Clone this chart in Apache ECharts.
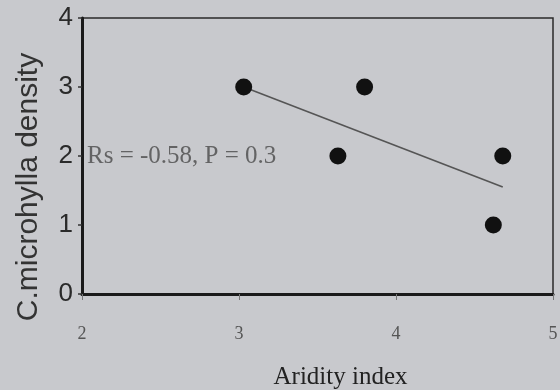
<!DOCTYPE html>
<html>
<head>
<meta charset="utf-8">
<script src="https://cdn.jsdelivr.net/npm/echarts@6/dist/echarts.min.js"></script>
<style>
  html, body { margin: 0; padding: 0; background: #c8c9cd; }
  #chart { width: 560px; height: 390px; }
</style>
</head>
<body>
<div id="chart"></div>
<script>
// data
const aridity = [3.03, 3.63, 3.80, 4.62, 4.68];
const density = [3, 2, 3, 1, 2];
const trendX = [3.03, 4.68];
const trendY = [3.0, 1.55];
const xTicks = [2, 3, 4, 5];
const yTicks = [0, 1, 2, 3, 4];
const statText = 'Rs = -0.58, P = 0.3';
const statAt = [2.0, 2];

const points = aridity.map((x, i) => [x, density[i]]);
const trend = trendX.map((x, i) => [x, trendY[i]]);

const chart = echarts.init(document.getElementById('chart'), null, { renderer: 'canvas' });
chart.setOption({
  backgroundColor: '#c8c9cd',
  animation: false,
  grid: {
    left: 82, right: 7, top: 18, bottom: 96,
    outerBoundsMode: 'none', containLabel: false,
    show: true, borderColor: '#2a2a2a', borderWidth: 1.5
  },
  xAxis: {
    type: 'value',
    min: xTicks[0], max: xTicks[xTicks.length - 1], interval: 1,
    name: 'Aridity index',
    nameLocation: 'middle',
    nameGap: 71,
    nameTextStyle: { fontFamily: 'Liberation Serif', fontSize: 25, color: '#222', padding: [0, 0, 0, 46] },
    axisLine: { lineStyle: { color: '#1a1a1a', width: 3 } },
    axisTick: { show: true, length: 6, lineStyle: { color: '#777', width: 1 } },
    axisLabel: { margin: 31, fontFamily: 'Liberation Serif', fontSize: 18, color: '#555' },
    splitLine: { show: false }
  },
  yAxis: {
    type: 'value',
    min: yTicks[0], max: yTicks[yTicks.length - 1], interval: 1,
    name: 'C.microhylla density',
    nameLocation: 'middle',
    nameGap: 38,
    nameTextStyle: { fontFamily: 'Liberation Sans', fontSize: 30, color: '#333', padding: [0, 62, 0, 0] },
    axisLine: { lineStyle: { color: '#1a1a1a', width: 3 } },
    axisTick: { show: true, length: 4, lineStyle: { color: '#333', width: 1.5 } },
    axisLabel: { margin: 9, fontFamily: 'Liberation Sans', fontSize: 26, color: '#2a2a2a' },
    splitLine: { show: false }
  },
  series: [
    {
      type: 'line',
      data: trend,
      symbol: 'none',
      lineStyle: { color: '#555', width: 1.6 },
      z: 2
    },
    {
      type: 'scatter',
      data: points,
      symbolSize: 17,
      itemStyle: { color: '#111', opacity: 1 },
      z: 3
    },
    {
      type: 'scatter',
      data: [statAt],
      symbolSize: 0,
      label: {
        show: true, position: 'right', distance: 5,
        formatter: statText,
        fontFamily: 'Liberation Serif', fontSize: 25, color: '#4a4a4a'
      },
      z: 4
    }
  ]
});
</script>
</body>
</html>
